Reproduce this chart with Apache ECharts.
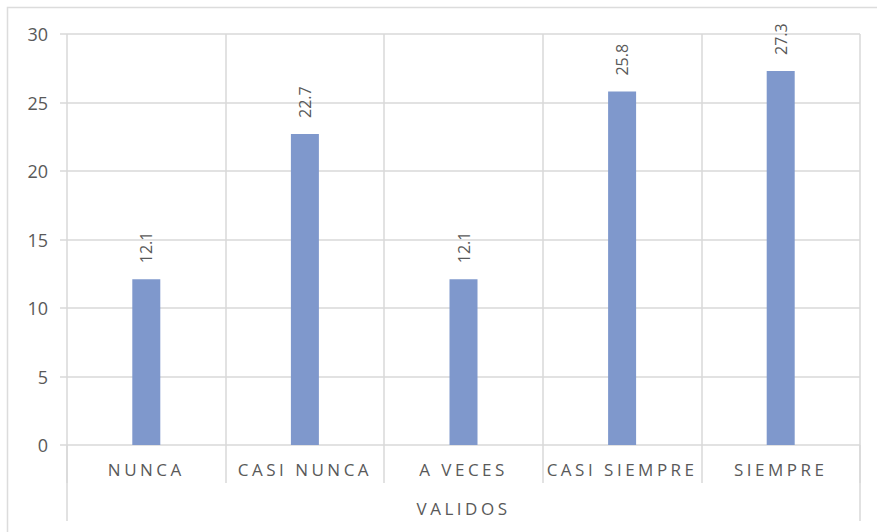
<!DOCTYPE html>
<html>
<head>
<meta charset="utf-8">
<script src="https://cdn.jsdelivr.net/npm/echarts@6/dist/echarts.min.js"></script>
<style>
  html, body { margin: 0; padding: 0; background: #fff; }
  #chart { width: 877px; height: 532px; }
  /* spaced capitals for the category captions */
  #chart text[style*="sans-serif"] { letter-spacing: 3.5px; }
</style>
</head>
<body>
<div id="chart"></div>
<script>
// Response categories and their percentages
const categories = ['NUNCA', 'CASI NUNCA', 'A VECES', 'CASI SIEMPRE', 'SIEMPRE'];
const values = [12.1, 22.7, 12.1, 25.8, 27.3];
const groupLabels = ['VALIDOS'];
const yTicks = { min: 0, max: 30, step: 5 };

const gridColor = '#d9d9d9';
const textColor = '#595959';
const numFont = "'Open Sans'";
const capFont = "'Open Sans', sans-serif";

const chart = echarts.init(document.getElementById('chart'), null, { renderer: 'svg' });

chart.setOption({
  animation: false,
  backgroundColor: '#ffffff',
  grid: { left: 67, right: 17, top: 34, bottom: 87 },
  graphic: [{
    type: 'rect',
    shape: { x: 7.5, y: 7.5, width: 900, height: 560 },
    style: { fill: 'none', stroke: '#dcdcdc', lineWidth: 1.5 },
    silent: true,
    z: -10
  }],
  xAxis: [{
    type: 'category',
    data: categories,
    position: 'bottom',
    axisLine: { show: false },
    axisTick: { show: true, length: 38, alignWithLabel: false, lineStyle: { color: gridColor, width: 1.5 } },
    splitLine: { show: true, lineStyle: { color: gridColor, width: 1.5 } },
    axisLabel: { color: textColor, fontFamily: capFont, fontSize: 17, margin: 16 }
  }, {
    type: 'category',
    data: groupLabels,
    position: 'bottom',
    axisLine: { show: false },
    axisTick: { show: true, length: 76, alignWithLabel: false, lineStyle: { color: gridColor, width: 1.5 } },
    splitLine: { show: false },
    axisLabel: { color: textColor, fontFamily: capFont, fontSize: 17, margin: 55 }
  }],
  yAxis: {
    type: 'value',
    min: yTicks.min,
    max: yTicks.max,
    interval: yTicks.step,
    axisLine: { show: false },
    axisTick: { show: true, length: 7, lineStyle: { color: gridColor, width: 1.5 } },
    splitLine: { show: true, lineStyle: { color: gridColor, width: 1.5 } },
    axisLabel: { color: textColor, fontFamily: numFont, fontSize: 18, margin: 19 }
  },
  series: [{
    type: 'bar',
    xAxisIndex: 0,
    data: values,
    barWidth: 28,
    itemStyle: { color: '#7f98cc' },
    label: {
      show: true,
      position: 'top',
      rotate: 90,
      align: 'left',
      verticalAlign: 'middle',
      distance: 16,
      color: textColor,
      fontFamily: numFont,
      fontSize: 16
    }
  }]
});
</script>
</body>
</html>
